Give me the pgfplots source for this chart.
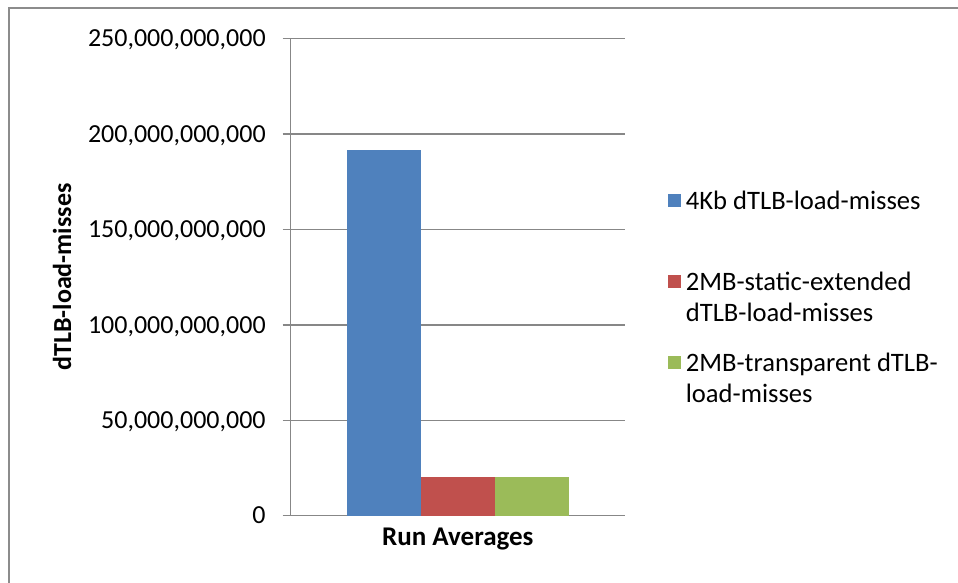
\documentclass[border=0pt]{standalone}
\usepackage{pgfplots}
\pgfplotsset{compat=1.18}
\usepackage{fontspec}
\setmainfont{Carlito}

\definecolor{xlblue}{HTML}{4F81BD}
\definecolor{xlred}{HTML}{C0504D}
\definecolor{xlgreen}{HTML}{9BBB59}
\definecolor{xlgrid}{HTML}{878787}
\definecolor{xlframe}{HTML}{8C8C8C}

% square legend key, sitting on the first text line
\pgfplotsset{
  sqkey/.style={legend image code/.code={%
    \path (0pt,0pt);
    \fill[#1] (0pt,1.15pt) rectangle (6.35pt,7.5pt);}},
}

\begin{document}
\begin{tikzpicture}
\useasboundingbox (0,0) rectangle (479pt,291.5pt);
% chart frame
\draw[xlframe, line width=1.2pt] (4.5pt,-5pt) -- (4.5pt,287.5pt) -- (490pt,287.5pt);
\begin{axis}[
  at={(145.35pt,33.65pt)}, anchor=south west,
  scale only axis, width=167.15pt, height=238.55pt,
  ybar=0pt, bar width=36.95pt,
  xmin=-0.5, xmax=0.5, ymin=0, ymax=250e9,
  enlarge x limits=false, enlarge y limits=false,
  axis x line*=bottom, axis y line*=left,
  axis line style={xlgrid, line width=0.7pt, -},
  xtick={0}, xticklabels={Run Averages},
  xtick style={draw=none},
  xticklabel style={font=\fontsize{13.5}{16}\selectfont\bfseries,
    anchor=base, yshift=-11.15pt, inner sep=0pt},
  ytick={0,50e9,100e9,150e9,200e9,250e9},
  ytick pos=left, tick align=outside, major tick length=4pt,
  ytick style={xlgrid, line width=0.7pt},
  ymajorgrids, grid style={xlgrid, line width=0.7pt},
  scaled y ticks=false,
  /pgf/number format/fixed,
  /pgf/number format/precision=0,
  /pgf/number format/1000 sep={,},
  /pgf/number format/assume math mode=true,
  yticklabel style={font=\fontsize{13}{15.6}\selectfont,
    anchor=base east, inner sep=0pt, xshift=-8.35pt, yshift=-4.1pt},
  ylabel={dTLB-load-misses},
  every axis y label/.style={at={(axis description cs:-0.657,0.5)},
    rotate=90, anchor=base, inner sep=0pt,
    font=\fontsize{13}{15.6}\selectfont\bfseries},
  legend style={at={(axis description cs:1.1286,0.6883)}, anchor=north west,
    draw=none, fill=none, inner sep=0pt, outer sep=0pt,
    row sep=28.25pt, column sep=2.6pt,
    font=\fontsize{13.3}{15.5}\selectfont,
    cells={anchor=base west}, nodes={inner sep=0pt}},
]
\addplot[fill=xlblue, draw=none, sqkey=xlblue] coordinates {(0,191.5e9)};
\addlegendentry{\begin{tabular}[t]{@{}l@{}}4Kb dTLB-load-misses\end{tabular}}
\addplot[fill=xlred, draw=none, sqkey=xlred] coordinates {(0,20.3e9)};
\addlegendentry{\begin{tabular}[t]{@{}l@{}}2MB-static-extended\\ dTLB-load-misses\end{tabular}}
\addplot[fill=xlgreen, draw=none, sqkey=xlgreen] coordinates {(0,20.3e9)};
\addlegendentry{\begin{tabular}[t]{@{}l@{}}2MB-transparent dTLB-\\ load-misses\end{tabular}}
\end{axis}
\end{tikzpicture}
\end{document}
